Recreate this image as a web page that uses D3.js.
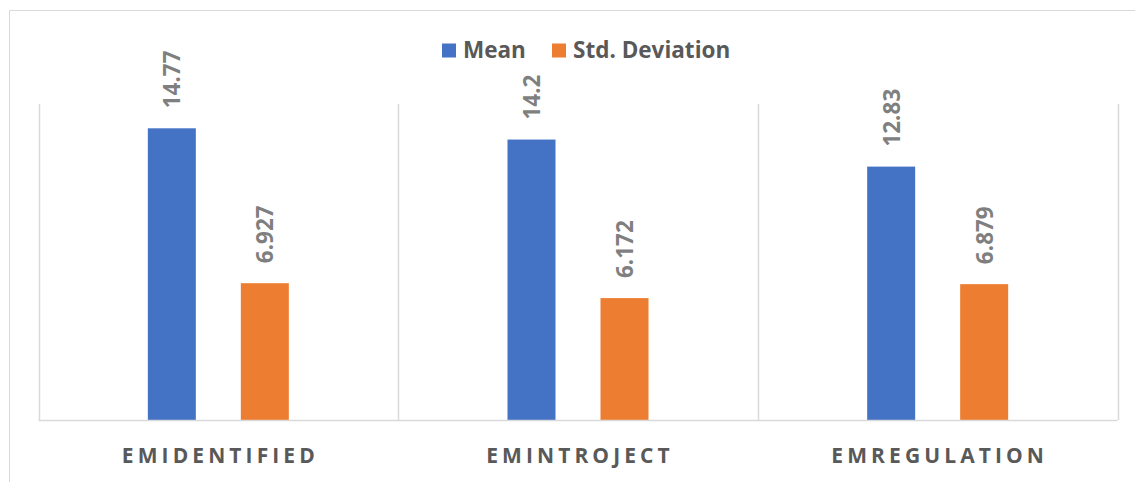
<!DOCTYPE html>
<html><head><meta charset="utf-8">
<script src="https://cdn.jsdelivr.net/npm/d3@7"></script>
<style>html,body{margin:0;padding:0;background:#fff;}</style>
</head><body>
<svg id="c" width="1135" height="482"></svg>
<script>
const categories = ["EMIDENTIFIED", "EMINTROJECT", "EMREGULATION"];
const seriesNames = ["Mean", "Std. Deviation"];
const meanValues = [14.77, 14.2, 12.83];
const stdValues = [6.927, 6.172, 6.879];
const valueLabels = [["14.77", "14.2", "12.83"], ["6.927", "6.172", "6.879"]];
const colors = ["#4472c4", "#ed7d31"];

(function () {
const svg = d3.select("#c");
const font = "'Open Sans', 'Liberation Sans', sans-serif";
// outer frame
svg.append("path").attr("d", "M9.5,482 V10.5 H1135").attr("fill", "none").attr("stroke", "#d9d9d9").attr("stroke-width", 1);

const pLeft = 38.5, pRight = 1117.5, pTop = 104, pBottom = 420;
const x = d3.scaleBand().domain(categories).range([pLeft, pRight]).padding(0);
const y = d3.scaleLinear().domain([0, 16]).range([pBottom, pTop]);
const series = [meanValues, stdValues];

// category separators
const seps = [pLeft, ...categories.map(c => x(c) + x.bandwidth())];
svg.selectAll(".sep").data(seps).enter().append("line")
  .attr("x1", d => Math.round(d) + 0.5).attr("x2", d => Math.round(d) + 0.5)
  .attr("y1", pTop).attr("y2", pBottom)
  .attr("stroke", "#d9d9d9").attr("stroke-width", 1.5);

// bars
const barW = 48, offset = 46.5;
series.forEach((vals, si) => {
  svg.selectAll(".bar" + si).data(vals).enter().append("rect")
    .attr("x", (d, i) => x(categories[i]) + x.bandwidth() / 2 + (si === 0 ? -offset : offset) - barW / 2)
    .attr("y", d => y(d))
    .attr("width", barW)
    .attr("height", d => pBottom - y(d))
    .attr("fill", colors[si]);
  svg.selectAll(".lab" + si).data(vals).enter().append("text")
    .attr("transform", (d, i) => {
      const cx = x(categories[i]) + x.bandwidth() / 2 + (si === 0 ? -offset : offset);
      return `translate(${cx + 8.5},${y(d) - 20}) rotate(-90)`;
    })
    .attr("text-anchor", "start")
    .attr("font-family", font).attr("font-weight", "bold").attr("font-size", 22.5)
    .attr("fill", "#7f7f7f")
    .text((d, i) => valueLabels[si][i]);
});

// x axis line
svg.append("line").attr("x1", pLeft).attr("x2", pRight).attr("y1", pBottom + 0.5).attr("y2", pBottom + 0.5)
  .attr("stroke", "#d9d9d9").attr("stroke-width", 1.5);

// category labels
svg.selectAll(".cat").data(categories).enter().append("text")
  .attr("x", d => x(d) + x.bandwidth() / 2 + 2)
  .attr("y", 463)
  .attr("text-anchor", "middle")
  .attr("font-family", font).attr("font-weight", "bold").attr("font-size", 21)
  .attr("letter-spacing", "4.1px")
  .attr("fill", "#595959")
  .text(d => d);

// legend
const legend = [{ name: seriesNames[0], x: 442 }, { name: seriesNames[1], x: 552 }];
legend.forEach((l, i) => {
  svg.append("rect").attr("x", l.x).attr("y", 43.5).attr("width", 14).attr("height", 14).attr("fill", colors[i]);
  svg.append("text").attr("x", l.x + 21).attr("y", 58)
    .attr("font-family", font).attr("font-weight", "bold").attr("font-size", 22.5)
    .attr("fill", "#595959").text(l.name);
});
})();
</script>
</body></html>
